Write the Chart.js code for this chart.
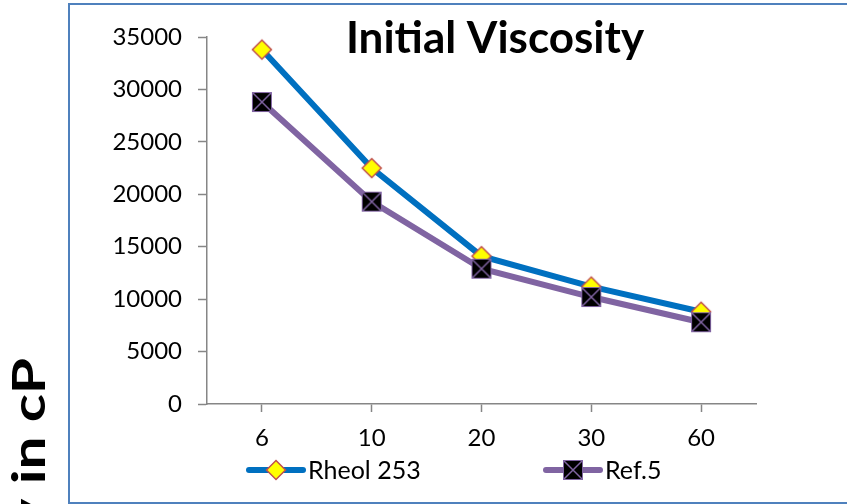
<!DOCTYPE html>
<html>
<head>
<meta charset="utf-8">
<script src="https://cdn.jsdelivr.net/npm/chart.js@4/dist/chart.umd.min.js"></script>
<style>
  html, body { margin: 0; padding: 0; background: #fff; }
  #wrap { width: 847px; height: 504px; }
</style>
</head>
<body>
<div id="wrap"><canvas id="chart" width="847" height="504"></canvas></div>
<script>
// values
const categories = ['6', '10', '20', '30', '60'];
const rheolValues = [33800, 22500, 14100, 11200, 8800];
const refValues = [28800, 19300, 12900, 10200, 7800];
const seriesNames = ['Rheol 253', 'Ref.5'];
const yMin = 0, yMax = 35000, yStep = 5000;
const chartTitle = 'Initial Viscosity';
const yTitle = 'Viscosity in cP';

const BLUE = '#0070c0';
const PURPLE = '#8064a2';
const AXIS = '#868686';

Chart.defaults.font.family = 'Lato, "Open Sans", sans-serif';
Chart.defaults.color = '#000';

// marker pictures
function diamondMarker() {
  const c = document.createElement('canvas');
  c.width = 24; c.height = 24;
  const g = c.getContext('2d');
  g.beginPath();
  g.moveTo(12, 2.5); g.lineTo(21.5, 12); g.lineTo(12, 21.5); g.lineTo(2.5, 12);
  g.closePath();
  g.fillStyle = '#ffff00';
  g.fill();
  g.lineWidth = 1.5;
  g.strokeStyle = '#c0504d';
  g.stroke();
  return c;
}

function squareXMarker() {
  const c = document.createElement('canvas');
  c.width = 22; c.height = 22;
  const g = c.getContext('2d');
  g.fillStyle = '#000';
  g.fillRect(1, 1, 20, 20);
  g.strokeStyle = PURPLE;
  g.lineWidth = 1.5;
  g.beginPath();
  g.moveTo(2, 2); g.lineTo(20, 20);
  g.moveTo(20, 2); g.lineTo(2, 20);
  g.stroke();
  g.lineWidth = 1;
  g.strokeRect(1.5, 1.5, 19, 19);
  return c;
}

const diamond = diamondMarker();
const squareX = squareXMarker();

// frame, titles and legend
const extras = {
  id: 'extras',
  beforeDraw(chart) {
    const ctx = chart.ctx;
    ctx.save();
    ctx.strokeStyle = '#4f81bd';
    ctx.lineWidth = 2;
    ctx.strokeRect(69, 4, 900, 499);
    ctx.restore();
  },
  afterDraw(chart) {
    const ctx = chart.ctx;
    ctx.save();
    ctx.fillStyle = '#000';

    ctx.font = 'bold 44px Lato';
    ctx.textAlign = 'center';
    ctx.textBaseline = 'alphabetic';
    ctx.fillText(chartTitle, 495, 53);

    // y title, cut off at the bottom left like the original
    ctx.save();
    ctx.translate(45, 358);
    ctx.rotate(-Math.PI / 2);
    ctx.scale(1.3, 1);
    ctx.textAlign = 'right';
    ctx.font = 'bold 45px Lato';
    ctx.fillText(yTitle, 0, 0);
    ctx.restore();

    // legend
    const items = [
      { x: 249, ds: chart.data.datasets[1] },
      { x: 546, ds: chart.data.datasets[0] }
    ];
    const ly = 470;
    ctx.font = '25px Lato';
    ctx.textAlign = 'left';
    ctx.textBaseline = 'middle';
    items.forEach(it => {
      ctx.strokeStyle = it.ds.borderColor;
      ctx.lineWidth = 6;
      ctx.lineCap = 'round';
      ctx.beginPath();
      ctx.moveTo(it.x, ly);
      ctx.lineTo(it.x + 54, ly);
      ctx.stroke();
      const img = it.ds.pointStyle;
      ctx.drawImage(img, it.x + 27 - img.width / 2, ly - img.height / 2);
      ctx.fillText(it.ds.label, it.x + 59, ly + 1);
    });
    ctx.restore();
  }
};

new Chart(document.getElementById('chart'), {
  type: 'line',
  data: {
    labels: categories,
    datasets: [
      {
        label: seriesNames[1],
        data: refValues,
        borderColor: PURPLE,
        backgroundColor: PURPLE,
        borderWidth: 6,
        pointStyle: squareX,
        pointRadius: 10,
        tension: 0,
        order: 0
      },
      {
        label: seriesNames[0],
        data: rheolValues,
        borderColor: BLUE,
        backgroundColor: BLUE,
        borderWidth: 6,
        pointStyle: diamond,
        pointRadius: 10,
        tension: 0,
        order: 1
      }
    ]
  },
  options: {
    responsive: false,
    animation: false,
    devicePixelRatio: 1,
    layout: { padding: { top: 37, right: 91, bottom: 0, left: 0 } },
    plugins: {
      legend: { display: false },
      title: { display: false },
      tooltip: { enabled: false }
    },
    scales: {
      x: {
        offset: true,
        grid: {
          drawOnChartArea: false,
          tickLength: 8,
          tickColor: AXIS,
          tickWidth: 1.5
        },
        border: { color: AXIS, width: 1.5 },
        ticks: { font: { size: 24 }, padding: 12, autoSkip: false, maxRotation: 0 },
        afterFit(scale) { scale.height = 100; }
      },
      y: {
        min: yMin,
        max: yMax,
        grid: {
          drawOnChartArea: false,
          tickLength: 9,
          tickColor: AXIS,
          tickWidth: 1.5
        },
        border: { color: AXIS, width: 1.5 },
        ticks: {
          stepSize: yStep,
          font: { size: 24 },
          padding: 16,
          callback: v => String(v)
        },
        afterFit(scale) { scale.width = 207; }
      }
    }
  },
  plugins: [extras]
});
</script>
</body>
</html>
